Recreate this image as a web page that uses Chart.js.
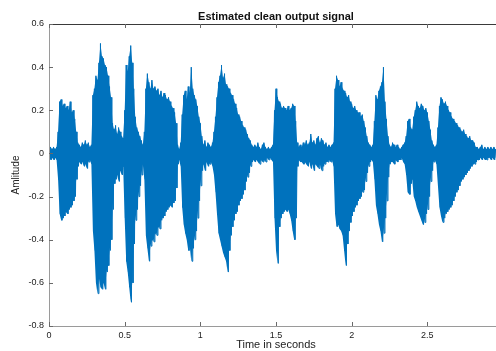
<!DOCTYPE html>
<html>
<head>
<meta charset="utf-8">
<script src="https://cdn.jsdelivr.net/npm/chart.js@4/dist/chart.umd.min.js"></script>
<style>
  html, body { margin: 0; padding: 0; background: #ffffff; overflow: hidden; width: 496px; height: 351px; }
  #wrap { position: relative; width: 520px; height: 351px; }
</style>
</head>
<body>
<div id="wrap"><canvas id="c" width="520" height="351"></canvas></div>
<script>
// ---- chart text ----
const chartTitle = 'Estimated clean output signal';
const xTitle = 'Time in seconds';
const yTitle = 'Amlitude';

// ---- axis ranges / ticks ----
const xRange = [0, 3];
const yRange = [-0.8, 0.6];
const xTickStep = 0.5;
const yTickStep = 0.2;

// ---- signal envelope, one value every 0.01 s (t = 0.00 ... 2.95) ----
const sampleStep = 0.01;
const upper = [
  0.02,0.03,0.02,0.03,0.02,0.03,0.10,0.24,0.25,0.22,
  0.23,0.21,0.22,0.20,0.24,0.19,0.20,0.16,0.10,0.05,
  0.04,0.03,0.05,0.04,0.06,0.04,0.05,0.03,0.04,0.27,
  0.30,0.36,0.34,0.42,0.51,0.45,0.44,0.41,0.40,0.36,
  0.31,0.26,0.14,0.11,0.13,0.09,0.12,0.10,0.08,0.07,
  0.20,0.41,0.38,0.45,0.50,0.42,0.30,0.17,0.12,0.10,
  0.08,0.06,0.04,0.10,0.30,0.37,0.33,0.30,0.34,0.30,
  0.31,0.29,0.30,0.27,0.29,0.26,0.28,0.27,0.25,0.26,
  0.24,0.22,0.21,0.19,0.14,0.04,0.02,0.05,0.18,0.27,
  0.29,0.25,0.31,0.28,0.40,0.30,0.27,0.25,0.22,0.17,
  0.14,0.08,0.04,0.06,0.03,0.05,0.04,0.03,0.05,0.10,
  0.17,0.26,0.33,0.36,0.41,0.35,0.37,0.32,0.31,0.30,
  0.28,0.27,0.25,0.23,0.21,0.18,0.17,0.15,0.13,0.12,
  0.11,0.09,0.07,0.06,0.04,0.03,0.04,0.03,0.05,0.03,
  0.02,0.04,0.05,0.03,0.02,0.03,0.02,0.03,0.04,0.20,
  0.30,0.26,0.24,0.23,0.21,0.22,0.21,0.20,0.22,0.20,
  0.21,0.23,0.22,0.15,0.05,0.03,0.04,0.03,0.05,0.04,
  0.06,0.04,0.05,0.09,0.05,0.06,0.04,0.07,0.08,0.05,
  0.07,0.06,0.04,0.05,0.03,0.04,0.03,0.04,0.05,0.30,
  0.36,0.34,0.31,0.33,0.30,0.29,0.28,0.26,0.27,0.24,
  0.23,0.21,0.22,0.20,0.19,0.19,0.17,0.18,0.15,0.12,
  0.08,0.05,0.04,0.03,0.04,0.15,0.27,0.25,0.29,0.31,
  0.33,0.40,0.24,0.16,0.08,0.04,0.03,0.05,0.04,0.03,
  0.04,0.03,0.02,0.03,0.04,0.05,0.08,0.15,0.16,0.12,
  0.11,0.17,0.20,0.24,0.22,0.21,0.23,0.22,0.20,0.21,
  0.19,0.15,0.11,0.06,0.04,0.03,0.04,0.12,0.22,0.26,
  0.25,0.23,0.24,0.22,0.20,0.19,0.17,0.16,0.15,0.14,
  0.13,0.12,0.11,0.10,0.11,0.09,0.08,0.07,0.08,0.06,
  0.06,0.05,0.03,0.03,0.02,0.03,0.04,0.02,0.03,0.02,
  0.03,0.02,0.03,0.02,0.03,0.02
];
const lower = [
  -0.02,-0.03,-0.02,-0.03,-0.02,-0.03,-0.12,-0.28,-0.31,-0.30,
  -0.29,-0.27,-0.28,-0.26,-0.25,-0.24,-0.22,-0.20,-0.12,-0.06,
  -0.04,-0.05,-0.04,-0.06,-0.05,-0.07,-0.04,-0.03,-0.05,-0.36,
  -0.45,-0.60,-0.65,-0.58,-0.62,-0.63,-0.60,-0.63,-0.55,-0.52,
  -0.45,-0.40,-0.26,-0.14,-0.12,-0.10,-0.13,-0.08,-0.10,-0.06,
  -0.30,-0.50,-0.55,-0.62,-0.69,-0.60,-0.42,-0.31,-0.26,-0.20,
  -0.15,-0.10,-0.05,-0.12,-0.38,-0.44,-0.50,-0.43,-0.40,-0.41,
  -0.37,-0.38,-0.34,-0.35,-0.31,-0.30,-0.29,-0.27,-0.26,-0.25,
  -0.24,-0.25,-0.23,-0.22,-0.16,-0.05,-0.03,-0.06,-0.25,-0.33,
  -0.37,-0.40,-0.45,-0.43,-0.50,-0.44,-0.40,-0.36,-0.30,-0.22,
  -0.15,-0.08,-0.05,-0.08,-0.04,-0.06,-0.05,-0.04,-0.06,-0.10,
  -0.18,-0.28,-0.37,-0.40,-0.43,-0.46,-0.48,-0.50,-0.55,-0.45,
  -0.38,-0.34,-0.31,-0.28,-0.27,-0.24,-0.22,-0.21,-0.19,-0.17,
  -0.13,-0.11,-0.09,-0.06,-0.04,-0.03,-0.04,-0.03,-0.04,-0.05,
  -0.03,-0.04,-0.03,-0.04,-0.02,-0.03,-0.02,-0.03,-0.04,-0.30,
  -0.45,-0.51,-0.34,-0.30,-0.28,-0.27,-0.26,-0.27,-0.26,-0.28,
  -0.31,-0.36,-0.40,-0.30,-0.06,-0.03,-0.04,-0.04,-0.05,-0.04,
  -0.05,-0.06,-0.04,-0.07,-0.05,-0.08,-0.05,-0.06,-0.07,-0.05,
  -0.08,-0.06,-0.05,-0.04,-0.04,-0.03,-0.04,-0.03,-0.06,-0.28,
  -0.34,-0.33,-0.35,-0.36,-0.38,-0.45,-0.52,-0.42,-0.36,-0.32,
  -0.29,-0.27,-0.25,-0.24,-0.22,-0.21,-0.20,-0.18,-0.17,-0.13,
  -0.09,-0.06,-0.04,-0.03,-0.04,-0.12,-0.24,-0.28,-0.33,-0.36,
  -0.41,-0.37,-0.30,-0.22,-0.11,-0.05,-0.04,-0.04,-0.05,-0.03,
  -0.04,-0.03,-0.03,-0.02,-0.04,-0.05,-0.10,-0.18,-0.19,-0.14,
  -0.12,-0.20,-0.22,-0.25,-0.27,-0.29,-0.31,-0.33,-0.32,-0.28,
  -0.26,-0.20,-0.13,-0.08,-0.04,-0.03,-0.05,-0.15,-0.25,-0.29,
  -0.32,-0.30,-0.28,-0.27,-0.26,-0.25,-0.24,-0.22,-0.20,-0.18,
  -0.17,-0.15,-0.13,-0.12,-0.11,-0.10,-0.09,-0.08,-0.07,-0.06,
  -0.05,-0.05,-0.04,-0.03,-0.03,-0.02,-0.03,-0.02,-0.03,-0.03,
  -0.02,-0.02,-0.03,-0.02,-0.03,-0.02
];

// sample times for the envelope values
const times = upper.map((_, i) => +(i * sampleStep).toFixed(2));

// waveform trace: alternate between the top and bottom of the envelope
const wave = [];
times.forEach((t, i) => {
  wave.push({ x: t, y: upper[i] });
  wave.push({ x: t + sampleStep / 2, y: lower[i] });
});
const upperPts = times.map((t, i) => ({ x: t, y: upper[i] }));
const lowerPts = times.map((t, i) => ({ x: t, y: lower[i] }));

const BLUE = 'rgb(0,114,189)';
const FONT = '"Liberation Sans", Arial, Helvetica, sans-serif';
const fmt = v => String(Number(Number(v).toFixed(1)));

const matlabAxes = {
  id: 'matlabAxes',
  afterDraw(chart) {
    const { ctx, chartArea: a, scales: { x, y } } = chart;
    ctx.save();
    ctx.lineWidth = 1;
    ctx.strokeStyle = '#3a3a3a';
    ctx.beginPath();
    ctx.moveTo(a.left, Math.round(a.top) + 0.5);
    ctx.lineTo(a.right, Math.round(a.top) + 0.5);
    ctx.stroke();
    ctx.strokeStyle = '#9a9a9a';
    ctx.beginPath();
    ctx.moveTo(Math.round(a.left) + 0.5, a.top);
    ctx.lineTo(Math.round(a.left) + 0.5, a.bottom);
    ctx.moveTo(a.left, Math.round(a.bottom) + 0.5);
    ctx.lineTo(a.right, Math.round(a.bottom) + 0.5);
    ctx.stroke();
    ctx.strokeStyle = '#6a6a6a';
    ctx.beginPath();
    x.ticks.forEach(tk => {
      const px = Math.round(x.getPixelForValue(tk.value)) + 0.5;
      ctx.moveTo(px, a.bottom); ctx.lineTo(px, a.bottom - 4);
      ctx.moveTo(px, a.top); ctx.lineTo(px, a.top + 4);
    });
    y.ticks.forEach(tk => {
      const py = Math.round(y.getPixelForValue(tk.value)) + 0.5;
      ctx.moveTo(a.left, py); ctx.lineTo(a.left + 4, py);
    });
    ctx.stroke();
    const cx = (a.left + a.right) / 2;
    ctx.fillStyle = '#111111';
    ctx.textAlign = 'center';
    ctx.textBaseline = 'alphabetic';
    ctx.font = 'bold 11px ' + FONT;
    ctx.fillText(chartTitle, cx, 20);
    ctx.fillStyle = '#222222';
    ctx.font = '11px ' + FONT;
    ctx.fillText(xTitle, cx, 348);
    ctx.font = '10px ' + FONT;
    ctx.translate(19, (a.top + a.bottom) / 2);
    ctx.rotate(-Math.PI / 2);
    ctx.fillText(yTitle, 0, 0);
    ctx.restore();
  }
};

new Chart(document.getElementById('c'), {
  type: 'line',
  data: {
    datasets: [
      { data: upperPts, borderWidth: 0, borderColor: BLUE, backgroundColor: BLUE, pointRadius: 0, tension: 0, fill: '+1' },
      { data: lowerPts, borderWidth: 0, borderColor: BLUE, backgroundColor: BLUE, pointRadius: 0, tension: 0, fill: false },
      { data: wave, borderColor: BLUE, borderWidth: 1, pointRadius: 0, tension: 0, fill: false }
    ]
  },
  options: {
    responsive: false,
    animation: false,
    parsing: false,
    layout: { padding: { top: 24, right: 17, left: 0, bottom: 0 } },
    plugins: { legend: { display: false }, tooltip: { enabled: false }, title: { display: false } },
    scales: {
      x: {
        type: 'linear', min: xRange[0], max: xRange[1],
        grid: { display: false, drawTicks: false }, border: { display: false },
        ticks: { stepSize: xTickStep, padding: 4, color: '#222222', font: { family: FONT, size: 9 }, callback: fmt, maxRotation: 0 },
        afterFit: s => { s.height = 25; }
      },
      y: {
        type: 'linear', min: yRange[0], max: yRange[1],
        grid: { display: false, drawTicks: false }, border: { display: false },
        ticks: { stepSize: yTickStep, padding: 5, color: '#222222', font: { family: FONT, size: 9 }, callback: fmt },
        afterFit: s => { s.width = 49; }
      }
    }
  },
  plugins: [matlabAxes]
});
</script>
</body>
</html>
